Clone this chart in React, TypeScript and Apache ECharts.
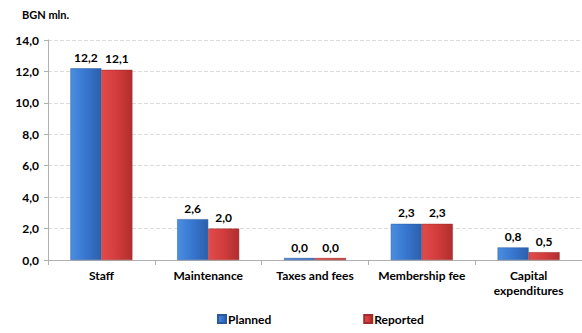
import React, { useEffect, useRef } from "react";
import * as echarts from "echarts";

const categories = ["Staff", "Maintenance", "Taxes and fees", "Membership fee", "Capital\nexpenditures"];
const planned = [12.2, 2.6, 0.0, 2.3, 0.8];
const reported = [12.1, 2.0, 0.0, 2.3, 0.5];
const unitLabel = "BGN mln.";

const FONT = "Lato, 'Open Sans', sans-serif";
const fmt = (v: number) => v.toFixed(1).replace(".", ",");

export default function App() {
  const ref = useRef<HTMLDivElement>(null);
  useEffect(() => {
    document.body.style.margin = "0";
    if (!ref.current) return;
    const chart = echarts.init(ref.current, undefined, { renderer: "svg" });
    const blue = new echarts.graphic.LinearGradient(0, 0, 1, 0, [
      { offset: 0, color: "#4a8ee0" },
      { offset: 0.5, color: "#3776cf" },
      { offset: 1, color: "#2c5fab" },
    ]);
    const red = new echarts.graphic.LinearGradient(0, 0, 1, 0, [
      { offset: 0, color: "#e24b4b" },
      { offset: 0.5, color: "#d23c3c" },
      { offset: 1, color: "#b02e2e" },
    ]);
    const label = {
      show: true,
      position: "top" as const,
      distance: 5,
      color: "#000",
      fontFamily: FONT,
      fontWeight: "bold" as const,
      fontSize: 12,
      formatter: (p: any) => fmt(p.value),
    };
    chart.setOption({
      animation: false,
      backgroundColor: "#fff",
      graphic: [
        {
          type: "text",
          left: 22,
          top: 9,
          style: { text: unitLabel, fontFamily: FONT, fontWeight: "bold", fontSize: 11, fill: "#000" },
        },
      ],
      legend: {
        bottom: 3,
        left: 212,
        itemGap: 92,
        itemWidth: 8,
        itemHeight: 8,
        icon: "rect",
        textStyle: { fontFamily: FONT, fontWeight: "bold", fontSize: 12, color: "#000", padding: [0, 0, 0, -3] },
        data: ["Planned", "Reported"],
      },
      grid: { left: 48, top: 40, width: 540, height: 220, containLabel: false },
      xAxis: {
        type: "category",
        data: categories,
        axisLine: { lineStyle: { color: "#b0b0b0" } },
        axisTick: { show: true, length: 5, lineStyle: { color: "#b0b0b0" } },
        axisLabel: {
          interval: 0,
          color: "#000",
          fontFamily: FONT,
          fontWeight: "bold",
          fontSize: 12,
          margin: 8,
          lineHeight: 15,
        },
      },
      yAxis: {
        type: "value",
        min: 0,
        max: 14,
        interval: 2,
        axisLine: { show: true, lineStyle: { color: "#b0b0b0" } },
        axisTick: { show: true, length: 4, lineStyle: { color: "#b0b0b0" } },
        splitLine: { lineStyle: { color: "#dcdcdc", type: "dashed" } },
        axisLabel: {
          color: "#000",
          fontFamily: FONT,
          fontWeight: "bold",
          fontSize: 12,
          margin: 9,
          formatter: (v: number) => fmt(v),
        },
      },
      series: [
        {
          name: "Planned",
          type: "bar",
          data: planned,
          barWidth: 31,
          barGap: "0%",
          barMinHeight: 2,
          itemStyle: { color: blue, borderColor: "#2a5a9e", borderWidth: 0.5 },
          label,
        },
        {
          name: "Reported",
          type: "bar",
          data: reported,
          barWidth: 31,
          barMinHeight: 2,
          itemStyle: { color: red, borderColor: "#a22a2a", borderWidth: 0.5 },
          label,
        },
      ],
      color: ["#3776cf", "#d23c3c"],
    });
    return () => chart.dispose();
  }, []);
  return <div ref={ref} style={{ width: 582, height: 333 }} />;
}
